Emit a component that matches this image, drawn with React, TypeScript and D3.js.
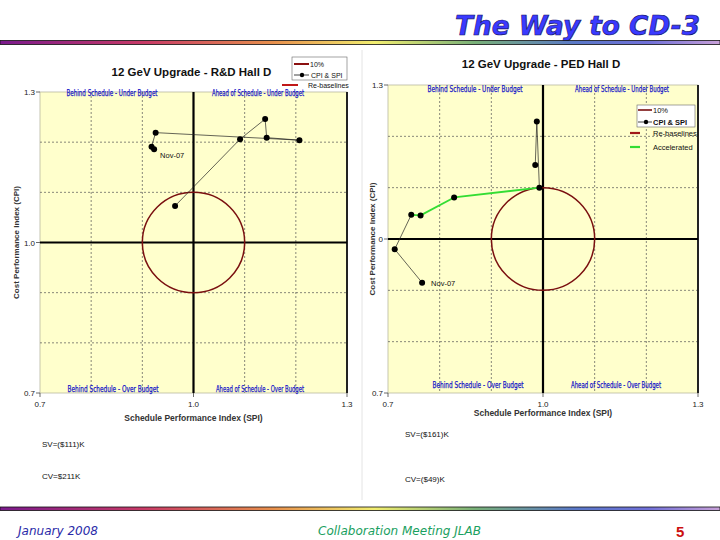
import React from 'react';
import * as d3 from 'd3';

// shared axis values
const axisTicks = [0.7, 1.0, 1.3];
const gridSteps = [0.8, 0.9, 1.1, 1.2];
const spiTickLabels = ['0.7', '1.0', '1.3'];
const quadrantNames = [
  'Behind Schedule - Under Budget',
  'Ahead of Schedule - Under Budget',
  'Behind Schedule - Over Budget',
  'Ahead of Schedule - Over Budget',
];

// 12 GeV Upgrade - R&D Hall D (Nov-07 first)
const rdSPI = [0.923, 0.918, 0.926, 1.207, 1.143, 1.14, 1.091, 0.964];
const rdCPI = [1.186, 1.191, 1.219, 1.204, 1.209, 1.246, 1.206, 1.073];
const rdCpiTickLabels = ['0.7', '1.0', '1.3'];
const rdVariances = ['SV=($111)K', 'CV=$211K'];

// 12 GeV Upgrade - PED Hall D (Nov-07 first)
const pedSPI = [0.766, 0.713, 0.745, 0.763, 0.828, 0.993, 0.988, 0.985];
const pedCPI = [0.915, 0.98, 1.047, 1.046, 1.081, 1.1, 1.229, 1.144];
const pedAccelerated = [2, 3, 4]; // segment start indices
const pedCpiTickLabels = ['0.7', '0', '1.3'];
const pedVariances = ['SV=($161)K', 'CV=($49)K'];

const arial = "'Liberation Sans', Arial, sans-serif";
const narrow = "'Liberation Sans Narrow', 'DejaVu Sans Condensed', sans-serif";
const comic = "'Comic Sans MS', 'DejaVu Sans', sans-serif";

interface PanelProps {
  left: number;
  right: number;
  top: number;
  bottom: number;
  title: string;
  titleY: number;
  spi: number[];
  cpi: number[];
  green?: number[];
  cpiLabels: string[];
  quadTopY: number;
  quadBottomY: number;
  quadX: number[];
  quadW: number[];
  yLabelX: number;
  xLabelY: number;
  novDx: number;
  novDy: number;
}

const Panel = (p: PanelProps) => {
  const x = d3.scaleLinear().domain([0.7, 1.3]).range([p.left, p.right]);
  const y = d3.scaleLinear().domain([0.7, 1.3]).range([p.bottom, p.top]);
  const pts = p.spi.map((s, i) => [x(s), y(p.cpi[i])] as [number, number]);
  const line = d3.line();
  const green = p.green || [];
  const cx = x(1.0);
  const cy = y(1.0);
  const midX = (p.left + p.right) / 2;
  const midY = (p.top + p.bottom) / 2;
  return (
    <g>
      <text x={midX - 2} y={p.titleY} textAnchor="middle" fontFamily={arial} fontWeight="bold" fontSize={11.5} fill="#111">
        {p.title}
      </text>
      <rect x={p.left} y={p.top} width={p.right - p.left} height={p.bottom - p.top} fill="#ffffcc" stroke="#b8b8a0" strokeWidth={0.8} />
      {gridSteps.map((g) => (
        <g key={g}>
          <line x1={x(g)} x2={x(g)} y1={p.top} y2={p.bottom} stroke="#555" strokeWidth={0.7} strokeDasharray="2,2" />
          <line x1={p.left} x2={p.right} y1={y(g)} y2={y(g)} stroke="#555" strokeWidth={0.7} strokeDasharray="2,2" />
        </g>
      ))}
      <line x1={p.right} x2={p.right} y1={p.top} y2={p.bottom} stroke="#222" strokeWidth={2} />
      <line x1={cx} x2={cx} y1={p.top} y2={p.bottom} stroke="#000" strokeWidth={2.2} />
      <line x1={p.left} x2={p.right} y1={cy} y2={cy} stroke="#000" strokeWidth={2.2} />
      <ellipse cx={cx} cy={cy} rx={x(1.1) - cx} ry={cy - y(1.1)} fill="none" stroke="#7a1010" strokeWidth={1.5} />
      {axisTicks.map((t, i) => (
        <g key={t}>
          <line x1={p.left - 4} x2={p.left} y1={y(t)} y2={y(t)} stroke="#444" strokeWidth={0.8} />
          <text x={p.left - 5} y={y(t) + 3} textAnchor="end" fontFamily={arial} fontSize={8} fill="#222">
            {p.cpiLabels[i]}
          </text>
          <line x1={x(t)} x2={x(t)} y1={p.bottom} y2={p.bottom + 4} stroke="#444" strokeWidth={0.8} />
          <text x={x(t)} y={p.bottom + 14} textAnchor="middle" fontFamily={arial} fontSize={8} fill="#222">
            {spiTickLabels[i]}
          </text>
        </g>
      ))}
      <text x={midX} y={p.xLabelY} textAnchor="middle" fontFamily={arial} fontSize={8.5} fontWeight="bold" fill="#333">
        Schedule Performance Index (SPI)
      </text>
      <text
        transform={`translate(${p.yLabelX},${midY}) rotate(-90)`}
        textAnchor="middle"
        fontFamily={arial}
        fontSize={8}
        fontWeight="bold"
        fill="#333"
      >
        Cost Performance Index (CPI)
      </text>
      {quadrantNames.map((q, i) => (
        <text
          key={q}
          x={p.quadX[i]}
          y={i < 2 ? p.quadTopY : p.quadBottomY}
          textAnchor="middle"
          fontFamily={narrow}
          fontSize={9}
          fill="#1414c8"
          stroke="#1414c8"
          strokeWidth={0.25}
          textLength={p.quadW[i]}
          lengthAdjust="spacingAndGlyphs"
        >
          {q}
        </text>
      ))}
      {pts.slice(1).map((pt, i) => {
        const isGreen = green.includes(i);
        return (
          <path
            key={i}
            d={line([pts[i], pt]) || ''}
            fill="none"
            stroke={isGreen ? '#33dd33' : '#222'}
            strokeWidth={isGreen ? 1.8 : 0.7}
          />
        );
      })}
      {pts.map((pt, i) => (
        <circle key={i} cx={pt[0]} cy={pt[1]} r={3} fill="#000" />
      ))}
      <text x={pts[0][0] + p.novDx} y={pts[0][1] + p.novDy} fontFamily={arial} fontSize={7.5} fill="#111">
        Nov-07
      </text>
    </g>
  );
};

const App = () => {
  const rainbow = (
    <linearGradient id="rainbow" x1="0" x2="1" y1="0" y2="0">
      <stop offset="0" stopColor="#7a1a8c" />
      <stop offset="0.2" stopColor="#c83a66" />
      <stop offset="0.38" stopColor="#e8904c" />
      <stop offset="0.52" stopColor="#f2ee70" />
      <stop offset="0.66" stopColor="#78b078" />
      <stop offset="0.8" stopColor="#5a78c8" />
      <stop offset="0.9" stopColor="#7070d8" />
      <stop offset="1" stopColor="#c8a0d8" />
    </linearGradient>
  );
  return (
    <svg width={720} height={540} style={{ position: 'absolute', left: 0, top: 0 }} fontFamily={arial}>
      <defs>{rainbow}</defs>
      <rect width={720} height={540} fill="#fff" />
      <text
        x={700}
        y={35}
        textAnchor="end"
        fontFamily={comic}
        fontStyle="italic"
        fontWeight="bold"
        fontSize={27}
        fill="#3a3aff"
        stroke="#15156a"
        strokeWidth={0.7}
        textLength={245}
        lengthAdjust="spacingAndGlyphs"
      >
        The Way to CD-3
      </text>
      <rect x={0} y={40.5} width={720} height={4} fill="url(#rainbow)" stroke="#111" strokeWidth={0.8} />
      <line x1={362} x2={362} y1={50} y2={500} stroke="#e4e4e4" strokeWidth={1} />

      <Panel
        left={40}
        right={347}
        top={92}
        bottom={393}
        title="12 GeV Upgrade - R&D Hall D"
        titleY={76}
        spi={rdSPI}
        cpi={rdCPI}
        cpiLabels={rdCpiTickLabels}
        quadTopY={96}
        quadBottomY={392}
        quadX={[112, 258, 113, 260]}
        quadW={[91, 92, 91, 88]}
        yLabelX={19}
        xLabelY={421}
        novDx={6}
        novDy={9}
      />
      <Panel
        left={388}
        right={698}
        top={85}
        bottom={393}
        title="12 GeV Upgrade - PED Hall D"
        titleY={68}
        spi={pedSPI}
        cpi={pedCPI}
        green={pedAccelerated}
        cpiLabels={pedCpiTickLabels}
        quadTopY={92}
        quadBottomY={388}
        quadX={[475, 622, 478, 616]}
        quadW={[95, 94, 91, 90]}
        yLabelX={375}
        xLabelY={416}
        novDx={9}
        novDy={3}
      />

      {/* legend R&D */}
      <g fontFamily={arial} fontSize={7} fill="#111">
        <rect x={292} y={57} width={55} height={23} fill="#fff" stroke="#666" strokeWidth={0.6} />
        <line x1={294} x2={309} y1={64} y2={64} stroke="#8b1010" strokeWidth={2} />
        <text x={310} y={66.5}>10%</text>
        <line x1={294} x2={309} y1={75} y2={75} stroke="#111" strokeWidth={0.8} />
        <circle cx={302} cy={75} r={2.2} fill="#000" />
        <text x={311} y={77.5}>CPI &amp; SPI</text>
        <line x1={282} x2={298} y1={85} y2={85} stroke="#c01818" strokeWidth={2} />
        <text x={308} y={87.5}>Re-baselines</text>
      </g>

      {/* legend PED */}
      <g fontFamily={arial} fontSize={7.5} fill="#111">
        <rect x={637} y={105} width={58} height={22} fill="#fff" stroke="#666" strokeWidth={0.6} />
        <line x1={638} x2={652} y1={110} y2={110} stroke="#7a1010" strokeWidth={1.6} />
        <text x={653} y={113}>10%</text>
        <line x1={638} x2={652} y1={122} y2={122} stroke="#111" strokeWidth={0.8} />
        <circle cx={646} cy={122} r={2.2} fill="#000" />
        <text x={653} y={125} fontWeight="bold">CPI &amp; SPI</text>
        <line x1={630} x2={640} y1={133} y2={133} stroke="#a01818" strokeWidth={2.2} />
        <text x={653} y={136}>Re-baselines</text>
        <line x1={630} x2={640} y1={147} y2={147} stroke="#33dd33" strokeWidth={2.2} />
        <text x={653} y={150}>Accelerated</text>
      </g>

      {/* variances */}
      <g fontFamily={arial} fontSize={8} fill="#111">
        <text x={42} y={447}>{rdVariances[0]}</text>
        <text x={42} y={479}>{rdVariances[1]}</text>
        <text x={405} y={437}>{pedVariances[0]}</text>
        <text x={405} y={482}>{pedVariances[1]}</text>
      </g>

      <rect x={0} y={507} width={720} height={3.5} fill="url(#rainbow)" stroke="#111" strokeWidth={0.8} />
      <text x={18} y={535} fontFamily={comic} fontStyle="italic" fontSize={12} fill="#2a2aa8" textLength={80} lengthAdjust="spacingAndGlyphs">
        January 2008
      </text>
      <text x={318} y={535} fontFamily={comic} fontStyle="italic" fontSize={12} fill="#1aa060" textLength={163} lengthAdjust="spacingAndGlyphs">
        Collaboration Meeting JLAB
      </text>
      <text x={676} y={537} fontFamily={arial} fontWeight="bold" fontSize={15} fill="#cc1010">
        5
      </text>
    </svg>
  );
};

export default App;
